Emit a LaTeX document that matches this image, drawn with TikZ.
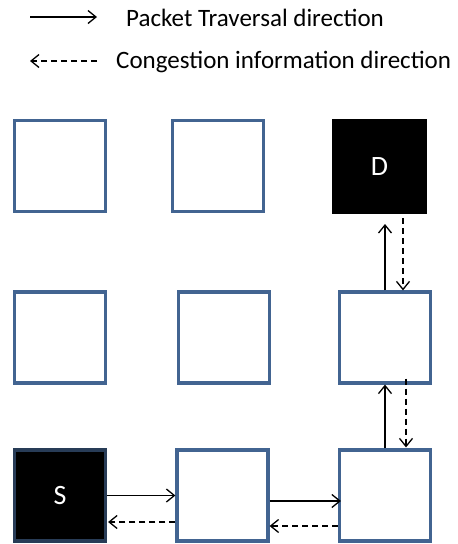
\documentclass[tikz,border=0pt]{standalone}
\usepackage{fontspec}
\setmainfont{Carlito}
\usetikzlibrary{arrows.meta}
\definecolor{boxblue}{RGB}{66,100,145}
\tikzset{
  router/.style={draw=boxblue, line width=3.2pt, fill=white, minimum width=91pt, minimum height=91pt, inner sep=0pt},
  endpoint/.style={router, fill=black, text=white, font=\fontsize{28}{30}\selectfont},
  pkt/.style={line width=1.3pt, -{Straight Barb[length=8pt,width=13pt,line width=1.3pt]}},
  cng/.style={pkt, dash pattern=on 6pt off 4pt},
  legendtext/.style={anchor=west, font=\fontsize{25}{28}\selectfont, inner sep=0pt}
}
\begin{document}
\begin{tikzpicture}[x=1pt, y=-1pt]
\useasboundingbox (0,0) rectangle (458,544);
% legend
\coordinate (la) at (30,17);
\coordinate (lb) at (97,17);
\coordinate (lc) at (97,61);
\coordinate (ld) at (30,61);
\draw[pkt] (la) -- (lb);
\draw[cng] (lc) -- (ld);
\node[legendtext] (lt1) at (126,18) {Packet Traversal direction};
\node[legendtext] (lt2) at (116,62) {Congestion information direction};
% mesh of routers
\node[router] (t1) at (60,166) {};
\node[router] (t2) at (218,166) {};
\node[endpoint, draw=black, line width=1pt, minimum width=94pt, minimum height=94pt] (d) at (379.5,166.5) {D};
\node[router] (m1) at (60,337.5) {};
\node[router] (m2) at (224,337.5) {};
\node[router] (m3) at (385,337.5) {};
\node[endpoint, draw=boxblue!60!black] (s) at (60,495.5) {S};
\node[router] (b2) at (222.5,495.5) {};
\node[router] (b3) at (385,495.5) {};
% column towards D
\draw[pkt, shorten >=10pt] (m3.north) -- (m3.north |- d.south);
\draw[cng, shorten <=4pt] ([xshift=18pt]m3.north |- d.south) -- ([xshift=18pt]m3.north);
\draw[pkt] (b3.north) -- (m3.south);
\draw[cng] ([xshift=21pt,yshift=6pt]m3.south) -- ([xshift=21pt,yshift=1pt]b3.north);
% row from S
\draw[pkt] (s.east) -- (b2.west);
\draw[cng] ([yshift=-26.5pt]b2.west) -- ([xshift=1pt,yshift=-26.5pt]s.east);
\draw[pkt] ([yshift=-5.5pt]b2.east) -- ([xshift=3pt,yshift=-5.5pt]b3.west);
\draw[cng] ([yshift=-30.5pt]b3.west) -- ([yshift=-30.5pt]b2.east);
\end{tikzpicture}
\end{document}
